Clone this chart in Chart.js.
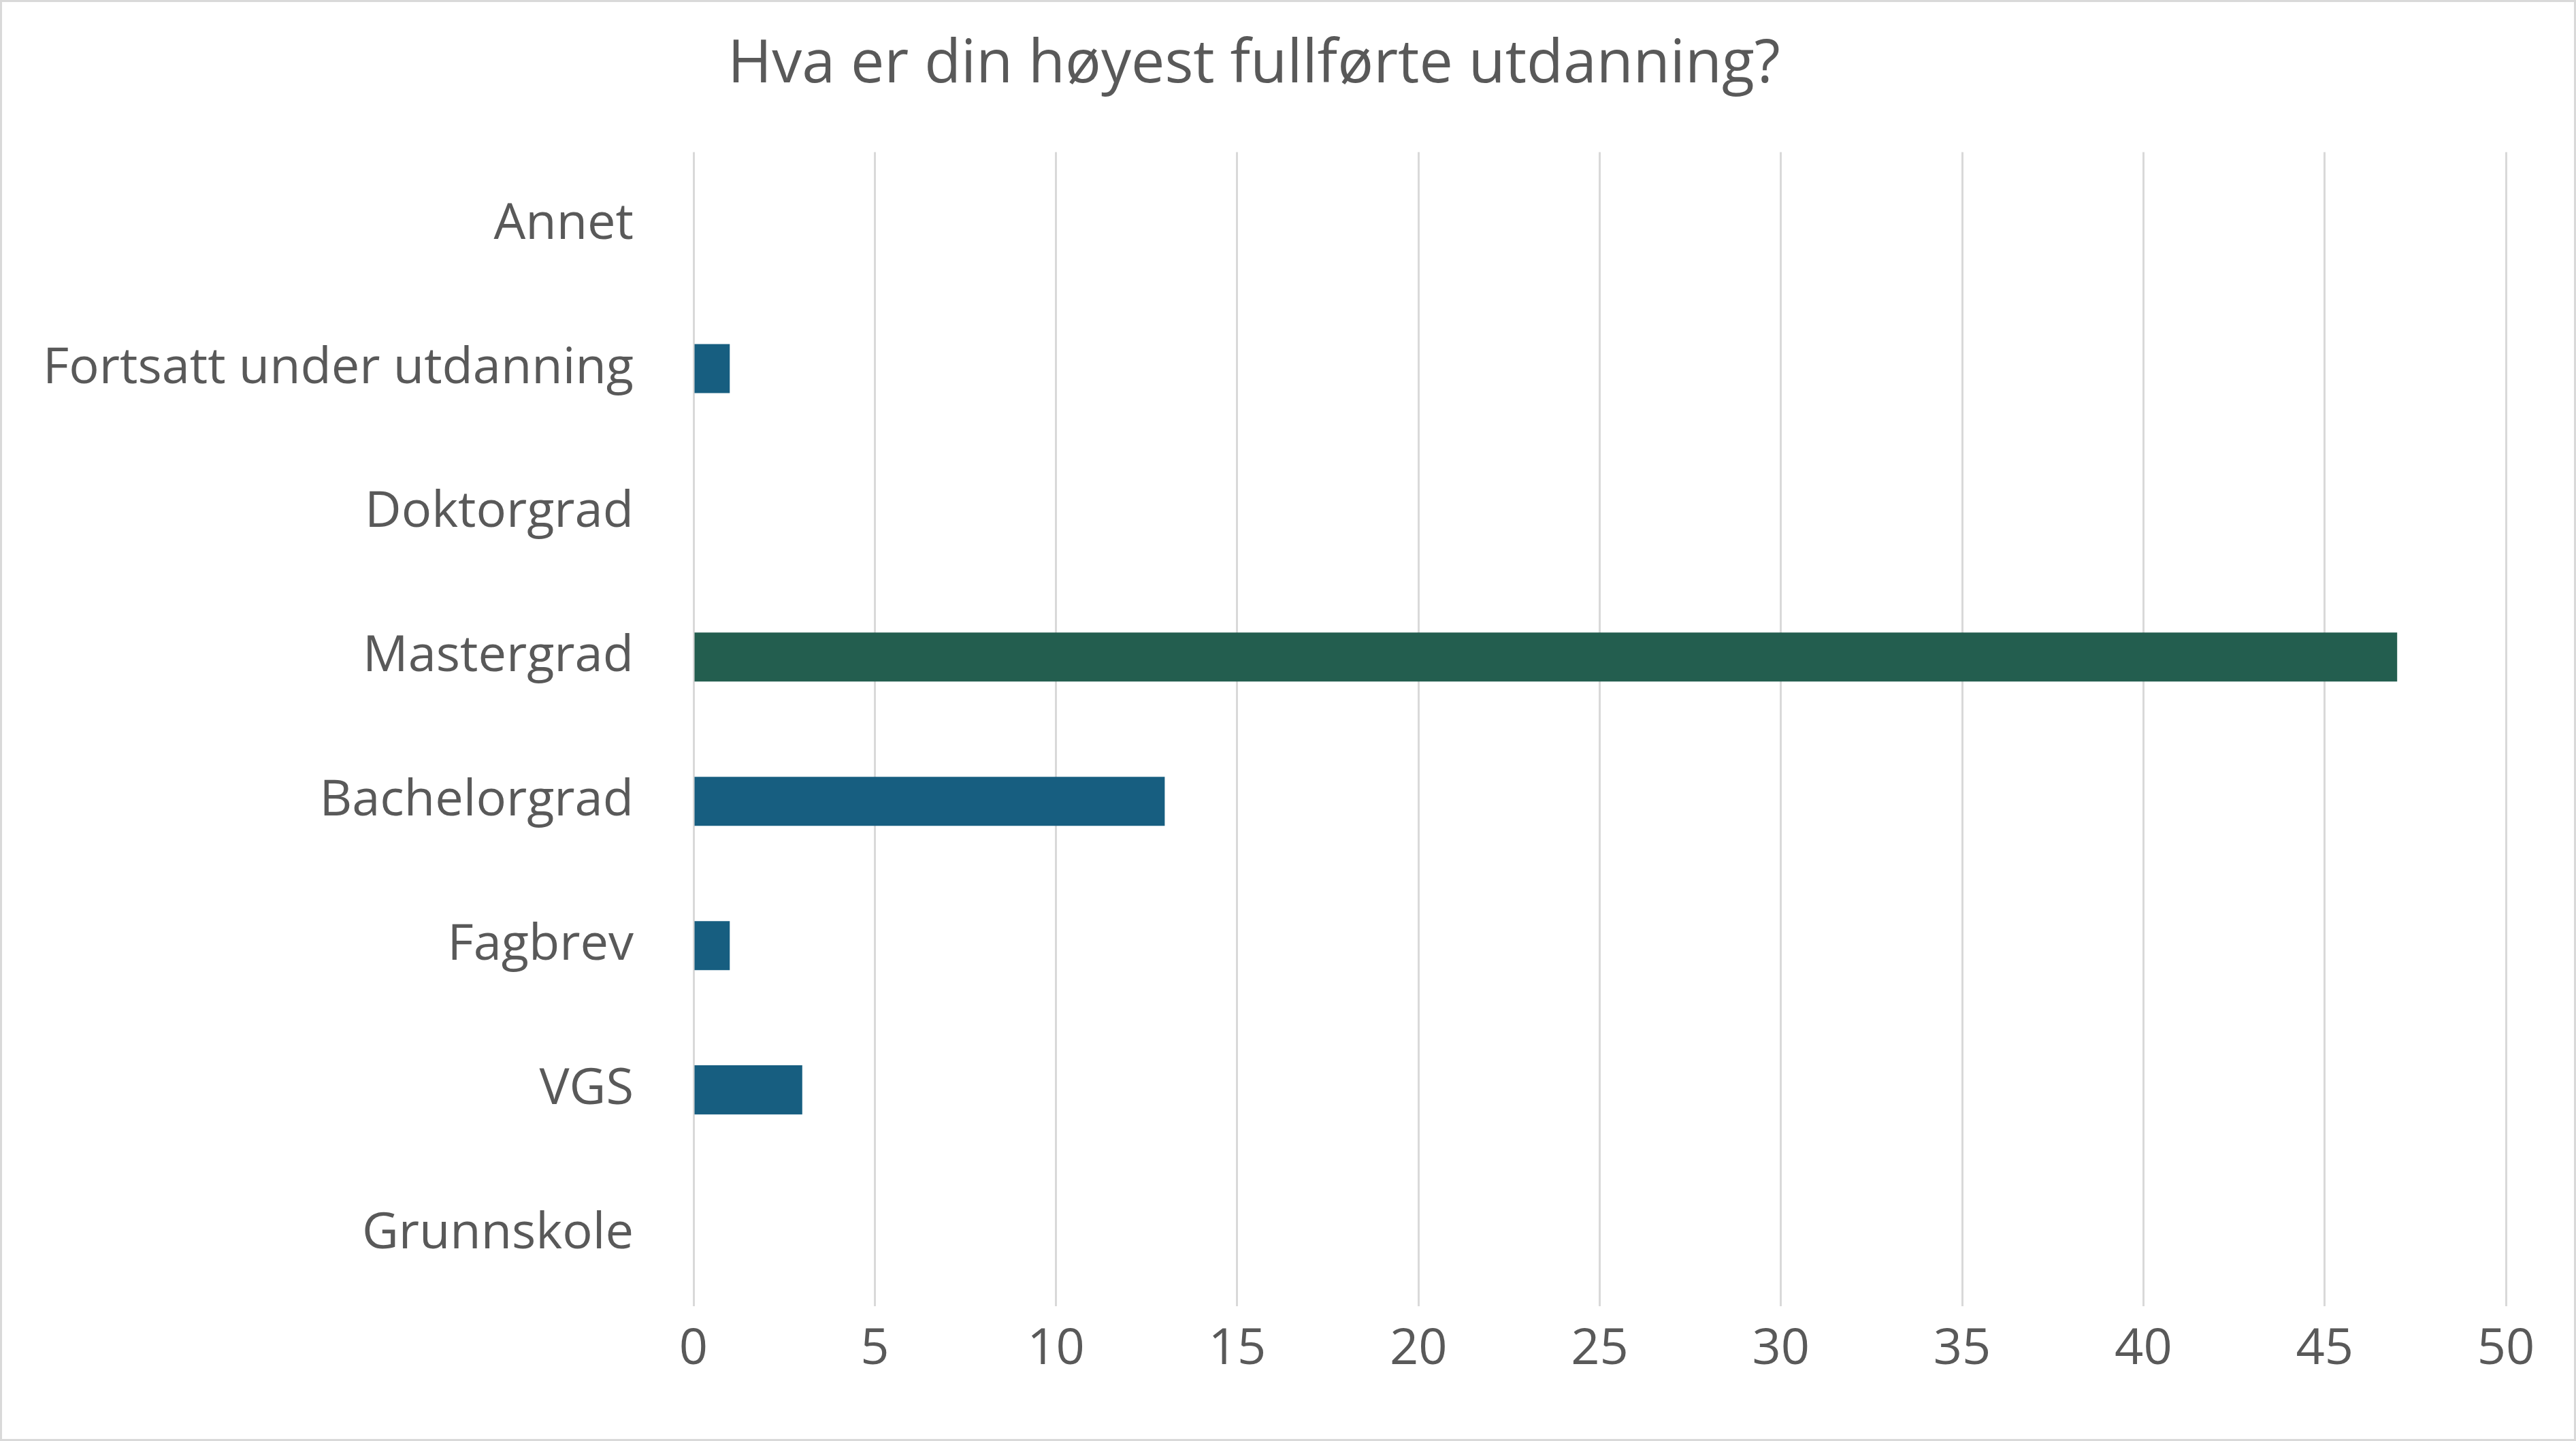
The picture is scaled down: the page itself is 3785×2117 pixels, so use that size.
<!DOCTYPE html>
<html>
<head>
<meta charset="utf-8">
<script src="https://cdn.jsdelivr.net/npm/chart.js@4/dist/chart.umd.min.js"></script>
<style>
  html, body { margin: 0; padding: 0; background: #fff; }
  #wrap { width: 3785px; height: 2117px; box-sizing: border-box; border: 3px solid #d9d9d9; }
</style>
</head>
<body>
<div id="wrap"><canvas id="c" width="3779" height="2111"></canvas></div>
<script>
// Data
const categories = ['Annet', 'Fortsatt under utdanning', 'Doktorgrad', 'Mastergrad', 'Bachelorgrad', 'Fagbrev', 'VGS', 'Grunnskole'];
const counts = [0, 1, 0, 47, 13, 1, 3, 0];
const highlight = 'Mastergrad';

const textColor = '#595959';
const fontFamily = "'Open Sans', 'Liberation Sans', sans-serif";

new Chart(document.getElementById('c'), {
    type: 'bar',
    data: {
        labels: categories,
        datasets: [{
            data: counts,
            backgroundColor: categories.map(c => c === highlight ? '#235e4f' : '#175e80'),
            barPercentage: 0.68,
            categoryPercentage: 0.5
        }]
    },
    options: {
        indexAxis: 'y',
        responsive: false,
        animation: false,
        layout: { padding: { left: 0, right: 100, top: 0, bottom: 20 } },
        plugins: {
            legend: { display: false },
            tooltip: { enabled: false },
            title: {
                display: true,
                text: 'Hva er din høyest fullførte utdanning?',
                color: textColor,
                font: { family: fontFamily, size: 88, weight: 'normal' },
                padding: { top: 40, bottom: 75 }
            }
        },
        scales: {
            x: {
                min: 0,
                max: 50,
                ticks: { stepSize: 5, color: textColor, font: { family: fontFamily, size: 74 }, padding: 20 },
                grid: { color: '#d9d9d9', lineWidth: 3, tickLength: 0 },
                border: { display: false },
                afterFit: s => { s.height = 175; }
            },
            y: {
                ticks: { color: textColor, font: { family: fontFamily, size: 74 }, padding: 80 },
                grid: { display: false },
                border: { display: false },
                afterFit: s => { s.width = 1016; }
            }
        }
    }
});
</script>
</body>
</html>
